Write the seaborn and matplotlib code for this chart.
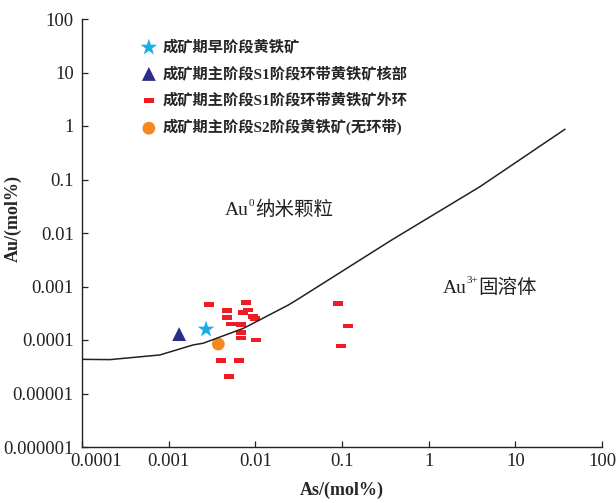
import numpy as np
import pandas as pd
import matplotlib
matplotlib.use("Agg")
import matplotlib.pyplot as plt
from matplotlib.path import Path
from matplotlib.transforms import ScaledTranslation
import seaborn as sns

# ---------------- data ----------------
early_as = [0.0027]
early_au = [0.000158]

core_as = [0.00132]
core_au = [0.000129]

rim_as = [0.00292, 0.00787, 0.00467, 0.0083, 0.00727, 0.00467, 0.0093, 0.0099,
          0.00519, 0.00678, 0.00678, 0.00689, 0.01026, 0.00402, 0.00647, 0.00492,
          0.0891, 0.1164, 0.0973]
rim_au = [0.000465, 0.000498, 0.000353, 0.000364, 0.00033, 0.000261, 0.000273, 0.000254,
          0.000199, 0.000197, 0.000137, 0.000109, 0.0001, 0.0000422, 0.000042, 0.0000206,
          0.000485, 0.000183, 0.0000773]

s2_as = [0.00374]
s2_au = [0.000084]

curve_as = [0.0001, 0.00021, 0.00079, 0.00192, 0.0025, 0.00728, 0.024, 0.03, 0.374, 3.91, 37.4]
curve_au = [0.0000435, 0.000043, 0.0000525, 0.000081, 0.000087, 0.000165, 0.00045, 0.00056,
            0.0074, 0.0735, 0.87]

labels = ["成矿期早阶段黄铁矿",
          "成矿期主阶段S1阶段环带黄铁矿核部",
          "成矿期主阶段S1阶段环带黄铁矿外环",
          "成矿期主阶段S2阶段黄铁矿(无环带)"]

xticks = [1e-4, 1e-3, 1e-2, 1e-1, 1, 10, 100]
xticklabels = ["0.0001", "0.001", "0.01", "0.1", "1", "10", "100"]
yticks = [1e-6, 1e-5, 1e-4, 1e-3, 1e-2, 1e-1, 1, 10, 100]
yticklabels = ["0.000001", "0.00001", "0.0001", "0.001", "0.01", "0.1", "1", "10", "100"]

# ---------------- style ----------------
sns.set_style("ticks", {"xtick.direction": "in", "ytick.direction": "in"})
FAM = ["Liberation Serif", "Noto Sans CJK SC", "DejaVu Serif"]
plt.rcParams["font.family"] = FAM
plt.rcParams["axes.unicode_minus"] = False

fig = plt.figure(figsize=(6.16, 5.03), dpi=100)
ax = fig.add_axes([82 / 616, 56 / 503, 520 / 616, 428 / 503])

curve_df = pd.DataFrame({"As": curve_as, "Au": curve_au})
sns.lineplot(data=curve_df, x="As", y="Au", ax=ax, color="#222222", linewidth=1.1,
             sort=False, estimator=None)

rect = Path([(-1, -0.5), (1, -0.5), (1, 0.5), (-1, 0.5), (-1, -0.5)],
            [Path.MOVETO, Path.LINETO, Path.LINETO, Path.LINETO, Path.CLOSEPOLY])

sns.scatterplot(x=early_as, y=early_au, ax=ax, marker="*", s=160, color="#18AEEA",
                edgecolor="none", label=labels[0])
sns.scatterplot(x=core_as, y=core_au, ax=ax, marker="^", s=100, color="#2A2D8C",
                edgecolor="none", label=labels[1])
sns.scatterplot(x=rim_as, y=rim_au, ax=ax, marker=rect, s=50, color="#EE1C25",
                edgecolor="none", label=labels[2])
sns.scatterplot(x=s2_as, y=s2_au, ax=ax, marker="o", s=85, color="#F5891F",
                edgecolor="none", label=labels[3])

ax.set_xscale("log")
ax.set_yscale("log")
ax.set_xlim(1e-4, 100)
ax.set_ylim(1e-6, 100)
ax.set_xticks(xticks)
ax.set_xticklabels(xticklabels)
ax.set_yticks(yticks)
ax.set_yticklabels(yticklabels)
ax.minorticks_off()
ax.tick_params(axis="both", direction="in", length=4, width=0.9, labelsize=13.5,
               colors="#222222")
ax.tick_params(axis="x", pad=4)
ax.tick_params(axis="y", pad=6)
for lab in ax.get_xticklabels():
    lab.set_fontfamily(FAM)
for lab in ax.get_yticklabels():
    lab.set_fontfamily(FAM)
first = ax.get_xticklabels()[0]
first.set_transform(first.get_transform() + ScaledTranslation(10 / 72, 0, fig.dpi_scale_trans))

sns.despine(ax=ax)
for sp in ("left", "bottom"):
    ax.spines[sp].set_linewidth(1.0)
    ax.spines[sp].set_color("#222222")

ax.set_xlabel("As/(mol%)", fontsize=13, fontweight="bold", family=FAM, labelpad=9)
ax.set_ylabel("Au/(mol%)", fontsize=13, fontweight="bold", family=FAM)
ax.yaxis.set_label_coords(-0.115, 0.535)


def region_label(x, y, sup, cjk):
    base = ax.text(x, y, "Au", fontsize=14, family=FAM, ha="left", va="baseline",
                   color="#222222")
    ax.annotate(sup, xy=(1, 0), xycoords=base, xytext=(-0.3, 9.5),
                textcoords="offset points", fontsize=8, family=FAM,
                ha="left", va="baseline", color="#222222")
    ax.annotate(cjk, xy=(1, 0), xycoords=base, xytext=(0.5 + 4.0 * len(sup), 0),
                textcoords="offset points", fontsize=14, family=FAM,
                ha="left", va="bottom", color="#222222")


region_label(0.00447, 0.0215, "0", "纳米颗粒")
region_label(1.46, 0.00077, "3+", "固溶体")

leg = ax.legend(loc="upper left", bbox_to_anchor=(0.108, 0.952), frameon=False,
                prop={"family": FAM, "size": 11, "weight": "bold"},
                handlelength=1.4, handletextpad=0.2, labelspacing=0.76,
                borderpad=0, borderaxespad=0)

fig.savefig("out.png", dpi=100)
